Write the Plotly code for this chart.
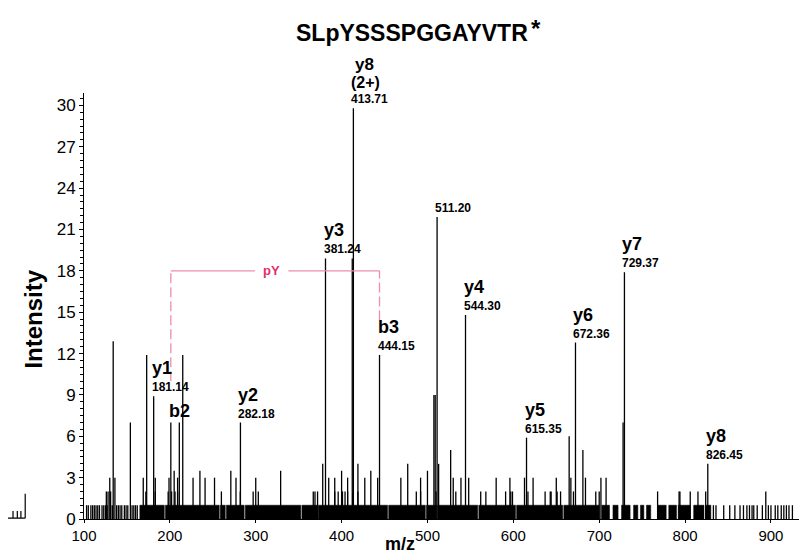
import plotly.graph_objects as go

# ---------------- data ----------------
title_text = "SLpYSSSPGGAYVTR"

# annotated fragment ions
ion_mz = [181.14, 201.12, 282.18, 381.24, 413.71, 444.15, 511.20, 544.30, 615.35, 672.36, 729.37, 826.45]
ion_int = [8.9, 7.0, 7.0, 18.9, 29.8, 11.9, 21.9, 14.8, 5.9, 12.8, 17.9, 4.0]
ion_name = ["y1", "b2", "y2", "y3", "y8<br>(2+)", "b3", "", "y4", "y5", "y6", "y7", "y8"]
ion_value = ["181.14", "", "282.18", "381.24", "413.71", "444.15", "511.20", "544.30", "615.35", "672.36", "729.37", "826.45"]

# other strong peaks (unlabelled)
other_mz = [134, 154, 173, 211, 215, 412.4, 507.5, 509, 665, 681, 727.8]
other_int = [12.9, 7, 11.9, 7, 11.9, 18.9, 9, 9, 6, 5, 7]

# medium peaks
mid_mz = [130, 136, 169, 183, 199, 205, 209, 227, 235, 241, 252, 271, 277, 300, 329,
          378, 385, 392, 400, 407, 419, 427, 434, 442, 469, 477, 492, 500, 513, 527, 530,
          539, 548, 580, 596, 613, 623, 650, 667, 684, 702, 708]
mid_int = [3, 3, 3, 3, 3, 3.5, 3, 3, 3.5, 3, 3, 3.5, 3, 3, 3.5,
           4, 3, 3, 3.5, 3, 4, 3, 3.5, 3, 3, 4, 3, 3.5, 4, 5, 3,
           3, 3, 3, 3, 3, 3, 3, 3, 3, 3, 3]

# small peaks at level 2
small_mz = [126, 128, 131, 172, 183, 198, 202, 206, 209, 260, 282, 297, 303, 367, 369, 372,
            392, 396, 401, 404, 407, 413, 419, 487, 492, 510, 533, 562, 568, 591, 597, 599,
            617, 637, 643, 644, 651, 655, 670, 696, 700, 768, 793, 794, 806, 815, 824, 894]
small_int = [2] * len(small_mz)

# dense baseline noise (intensity 1) given as m/z intervals
noise_start = [165.0, 194.8, 258.8, 265.8, 287.8, 353.8, 372.8, 454.8, 498.8, 511.8, 559.8, 603.8, 658.8,
               703.0, 716.0, 726.0, 740.0, 748.0, 755.0, 768.0, 781.0, 792.0, 810.0, 824.0]
noise_end = [193.5, 257.5, 264.5, 286.5, 352.5, 371.5, 453.5, 497.5, 510.5, 558.5, 602.5, 657.5, 700.0,
             712.0, 722.0, 736.0, 745.0, 752.0, 760.0, 778.0, 790.0, 806.0, 822.0, 830.0]
# sparse baseline sticks (intensity 1)
sparse_mz = [103, 105, 108, 110, 112, 114, 116, 118, 121, 123, 125, 127, 131, 133, 138, 140, 142,
             144, 147, 149, 151, 156, 158, 160, 162, 833, 836, 845, 852, 858, 864, 868, 872, 875,
             878, 880, 884, 890, 897, 900, 905, 908, 912, 915, 918, 921, 925, 935]

x_range = [100, 935]
y_range = [0, 30.9]

FONT = "Liberation Sans"

# ---------------- figure ----------------
fig = go.Figure()

# noise band
for s, e in zip(noise_start, noise_end):
    fig.add_trace(go.Scatter(x=[s, s, e, e, s], y=[0, 1, 1, 0, 0], fill="toself",
                             fillcolor="black", line=dict(color="black", width=0.5),
                             mode="lines", hoverinfo="skip", showlegend=False))

def sticks(mzs, ints):
    xs, ys = [], []
    for m, i in zip(mzs, ints):
        xs += [m, m, None]
        ys += [0, i, None]
    return xs, ys

all_mz = sparse_mz + small_mz + mid_mz + other_mz + ion_mz
all_int = [1] * len(sparse_mz) + small_int + mid_int + other_int + ion_int
sx, sy = sticks(all_mz, all_int)
fig.add_trace(go.Scatter(x=sx, y=sy, mode="lines", line=dict(color="black", width=1.3),
                         hoverinfo="skip", showlegend=False))

# pY bracket between b2 and b3
b2_mz, b3_mz = ion_mz[1], ion_mz[5]
bracket_y = 18.0
pink = "#ec8fa8"
fig.add_trace(go.Scatter(x=[b2_mz, b2_mz], y=[10, bracket_y], mode="lines",
                         line=dict(color=pink, width=1.3, dash="10px,4px"), showlegend=False, hoverinfo="skip"))
fig.add_trace(go.Scatter(x=[b3_mz, b3_mz], y=[14.4, bracket_y], mode="lines",
                         line=dict(color=pink, width=1.3, dash="10px,4px"), showlegend=False, hoverinfo="skip"))
fig.add_trace(go.Scatter(x=[b2_mz, 299, None, 338, b3_mz], y=[bracket_y, bracket_y, None, bracket_y, bracket_y],
                         mode="lines", line=dict(color=pink, width=1.3), showlegend=False, hoverinfo="skip"))
fig.add_annotation(x=(b2_mz + b3_mz) / 2 - 4, y=bracket_y, text="<b>pY</b>", showarrow=False,
                   font=dict(family=FONT, size=13, color="#e0306a"))

# ion labels
for m, i, n, v in zip(ion_mz, ion_int, ion_name, ion_value):
    if "(2+)" in n:
        fig.add_annotation(x=m, y=i, text="<b>" + v + "</b>", showarrow=False, xanchor="left",
                           yanchor="bottom", xshift=-4, yshift=0,
                           font=dict(family=FONT, size=12, color="black"))
        fig.add_annotation(x=m, y=i, text="<b>(2+)</b>", showarrow=False, xanchor="center",
                           yanchor="bottom", xshift=12, yshift=15,
                           font=dict(family=FONT, size=16, color="black"))
        fig.add_annotation(x=m, y=i, text="<b>y8</b>", showarrow=False, xanchor="center",
                           yanchor="bottom", xshift=11, yshift=32,
                           font=dict(family=FONT, size=17, color="black"))
        continue
    if v:
        fig.add_annotation(x=m, y=i, text="<b>" + v + "</b>", showarrow=False, xanchor="left",
                           yanchor="bottom", xshift=-4, yshift=0,
                           font=dict(family=FONT, size=12, color="black"))
    if n:
        fig.add_annotation(x=m, y=i, text="<b>" + n + "</b>", showarrow=False, xanchor="left",
                           yanchor="bottom", xshift=-4, yshift=16 if v else 0,
                           font=dict(family=FONT, size=18, color="black"))

# title and axis titles as annotations (placed like the reference)
fig.add_annotation(xref="paper", yref="paper", x=0.457, y=1.141, text="<b>" + title_text + "</b>",
                   showarrow=False, xanchor="center", yanchor="middle",
                   font=dict(family=FONT, size=23, color="black"))
fig.add_annotation(xref="paper", yref="paper", x=0.63, y=1.152, text="<b>*</b>",
                   showarrow=False, xanchor="center", yanchor="middle",
                   font=dict(family=FONT, size=24, color="black"))
fig.add_annotation(xref="paper", yref="paper", x=-0.07, y=0.47, text="<b>Intensity</b>",
                   textangle=-90, showarrow=False, xanchor="center", yanchor="middle",
                   font=dict(family=FONT, size=24, color="black"))
fig.add_annotation(xref="paper", yref="paper", x=0.441, y=-0.087, text="<b>m/z</b>",
                   showarrow=False, xanchor="center", yanchor="bottom",
                   font=dict(family=FONT, size=18, color="black"))

# small cropped fragment at the far left edge of the picture
fig.add_shape(type="path", xref="paper", yref="paper", line=dict(color="black", width=1.2),
              path="M -0.106,0.002 L -0.082,0.002 M -0.099,0.002 L -0.099,0.019 "
                   "M -0.093,0.002 L -0.093,0.019 M -0.088,0.002 L -0.088,0.019 "
                   "M -0.082,0.002 L -0.082,0.059")

fig.update_layout(
    width=807, height=556,
    paper_bgcolor="white", plot_bgcolor="white",
    margin=dict(l=76, r=14, t=85, b=45),
    xaxis=dict(range=x_range, showgrid=False, zeroline=False, showline=True, linecolor="black",
               linewidth=1, ticks="outside", ticklen=3, tickcolor="black", dtick=100, tick0=100,
               tickfont=dict(family=FONT, size=15, color="black")),
    yaxis=dict(range=y_range, showgrid=False, zeroline=False, showline=True, linecolor="black",
               linewidth=1, ticks="outside", ticklen=4, tickcolor="black", dtick=3, tick0=0,
               minor=dict(dtick=0.5, ticks="outside", ticklen=3, tickcolor="black"),
               tickfont=dict(family=FONT, size=17, color="black")),
)

fig.write_html("out.html")
